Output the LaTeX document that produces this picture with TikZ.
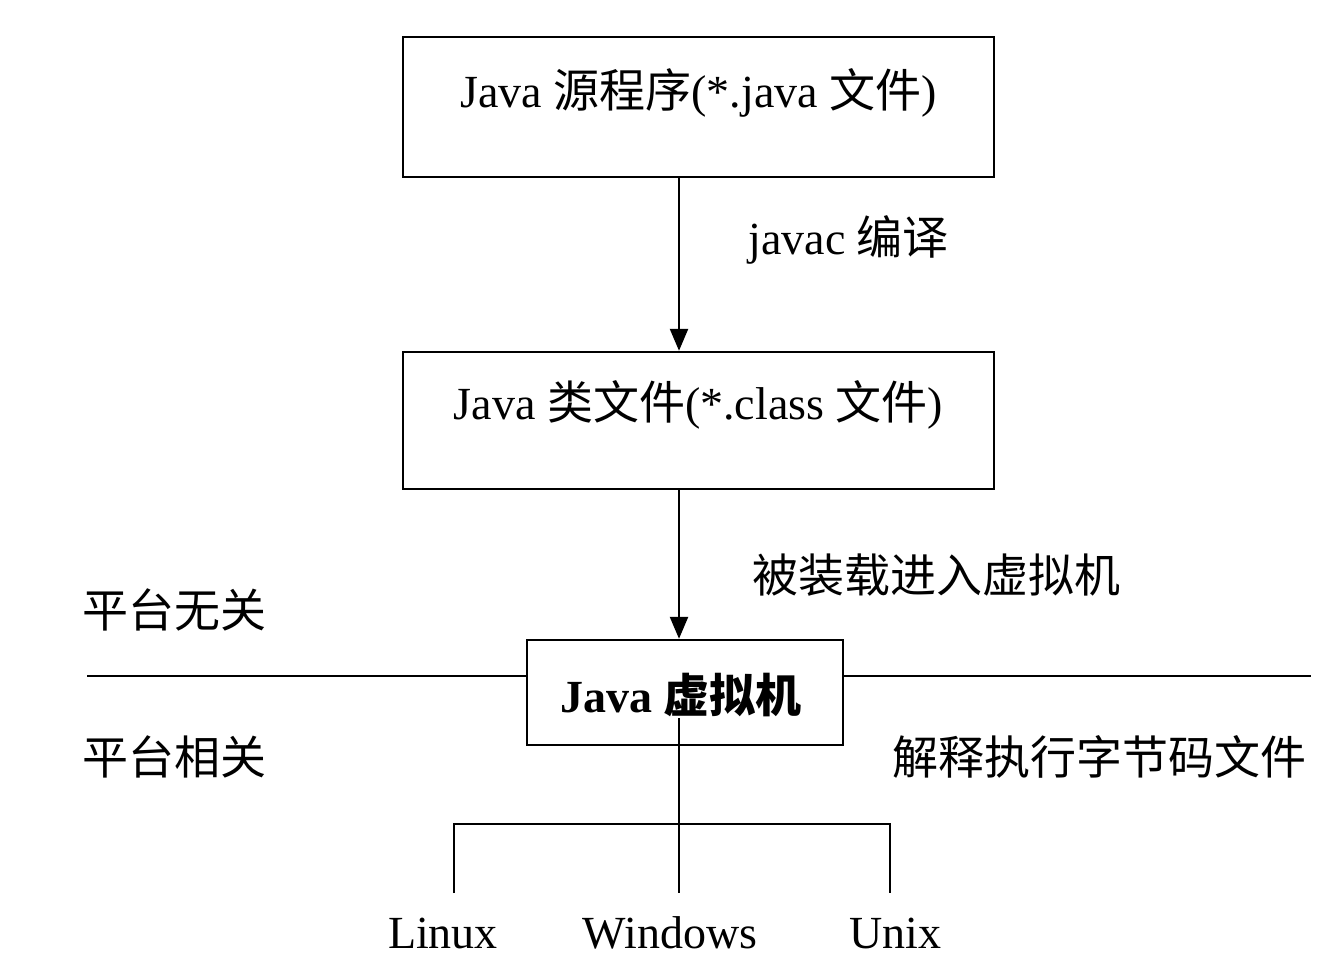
\documentclass[tikz,border=0pt]{standalone}
\usepackage{fontspec}
\setmainfont{Liberation Serif}
\newfontfamily\cjk{Noto Sans CJK SC}
\usetikzlibrary{arrows.meta}
\begin{document}
\begin{tikzpicture}[x=0.5pt,y=-0.5pt,
  box/.style={draw,line width=1.2pt,inner sep=0pt},
  lbl/.style={font=\fontsize{23}{26}\selectfont,inner sep=0pt},
  ln/.style={line width=1.2pt},
  arr/.style={ln,-{Triangle[length=11pt,width=9pt]}}]
\useasboundingbox (0,0) rectangle (1320,956);
\fill[white] (0,0) rectangle (1320,956);
% boxes
\node[box,minimum width=295.5pt,minimum height=70pt] (src) at (698.5,107) {};
\node[lbl] (srct) at (698.5,93) {Java {\cjk 源程序}(*.java {\cjk 文件})};
\node[box,minimum width=295.5pt,minimum height=68.5pt] (cls) at (698.5,420.5) {};
\node[lbl] (clst) at (698.5,405) {Java {\cjk 类文件}(*.class {\cjk 文件})};
\node[box,minimum width=158pt,minimum height=52.5pt] (jvm) at (685,692.5) {};
\node[lbl,font=\fontsize{23}{26}\selectfont\bfseries] (jvmt) at (681,695) {Java {\cjk\bfseries 虚拟机}};
% arrows
\draw[arr] (src.south -| 679,0) -- (cls.north -| 679,0);
\draw[arr] (cls.south -| 679,0) -- (jvm.north -| 679,0);
\node[lbl,anchor=west] (l1) at (748,240) {javac {\cjk 编译}};
\node[lbl,anchor=west] (l2) at (752,575) {\cjk 被装载进入虚拟机};
% platform line
\coordinate (pl) at (87,676);
\coordinate (pr) at (1311,676);
\draw[ln] (pl) -- (jvm.west |- pl);
\draw[ln] (jvm.east |- pr) -- (pr);
\node[lbl,anchor=west] (ind) at (82,610) {\cjk 平台无关};
\node[lbl,anchor=west] (dep) at (82,757) {\cjk 平台相关};
\node[lbl,anchor=west] (exe) at (892,757) {\cjk 解释执行字节码文件};
% tree
\coordinate (t0) at (679,718);
\coordinate (tm) at (679,824);
\coordinate (tl) at (454,824);
\coordinate (tr) at (890,824);
\coordinate (bl) at (454,893);
\coordinate (bm) at (679,893);
\coordinate (br) at (890,893);
\draw[ln] (t0) -- (bm);
\draw[ln] (bl) -- (tl) -- (tr) -- (br);
\node[lbl,anchor=base] (lin) at (443,948) {Linux};
\node[lbl,anchor=base] (win) at (670,948) {Windows};
\node[lbl,anchor=base] (uni) at (895,948) {Unix};
\end{tikzpicture}
\end{document}
